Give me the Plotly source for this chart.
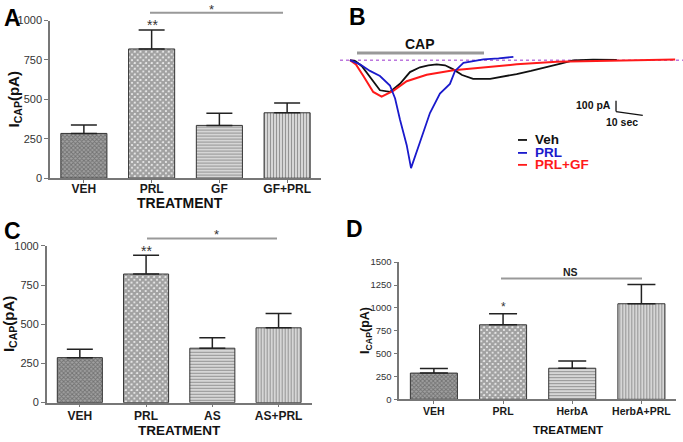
import plotly.graph_objects as go

W, H = 683, 442

# ---------------- data ----------------
cats_A = ["VEH", "PRL", "GF", "GF+PRL"]
mean_A = [284, 820, 335, 415]
sem_A = [54, 120, 77, 62]

cats_C = ["VEH", "PRL", "AS", "AS+PRL"]
mean_C = [287, 820, 347, 477]
sem_C = [54, 120, 66, 92]

cats_D = ["VEH", "PRL", "HerbA", "HerbA+PRL"]
mean_D = [287, 815, 340, 1045]
sem_D = [50, 122, 80, 210]

yticks_AC = [0, 250, 500, 750, 1000]
yticks_D = [0, 250, 500, 750, 1000, 1250, 1500]

# Panel B traces: time (s) and current (pA)
veh_t = [0, 2, 4.4, 8.1, 11.1, 14.8, 18.5, 22.2, 25.9, 29, 32.1, 35.2, 38.1, 41.5, 45.6, 51.9, 57, 61.7, 67, 72.9, 78, 82.6, 90, 98.8]
veh_i = [0, -8, -52, -161, -258, -272, -202, -102, -61, -45, -36, -44, -77, -127, -161, -161, -140, -119, -92, -61, -30, -2, 5, 3]

prl_t = [0, 3.7, 7.4, 11.1, 14.8, 16.7, 18.5, 21, 22.6, 24.1, 25.9, 29.6, 33.3, 37, 38.9, 42, 49.4, 55, 60.5]
prl_i = [0, -36, -92, -136, -217, -328, -508, -728, -925, -828, -703, -453, -286, -203, -92, -22, 6, 15, 28]

gf_t = [0, 2.2, 4.9, 8.6, 11.7, 16, 21, 28.4, 38.3, 49.4, 61.7, 76.6, 95.1, 120.4]
gf_i = [0, -36, -133, -272, -313, -263, -180, -125, -86, -63, -36, -13, -3, 6]

# ---------------- helpers ----------------
def px(x):
    return x / W

def py(y):
    return 1 - y / H

fig = go.Figure()

patt_shapes = ["x", "x", "-", "|"]
patt_fg = ["#5e5e5e", "#000000", "#8c8c8c", "#8c8c8c"]
patt_bg = ["#a0a0a0", "#ffffff", "#e4e4e4", "#e4e4e4"]
patt_size = [3, 4, 3, 3]
patt_sol = [0.5, 0.85, 0.45, 0.45]


def add_bars(cats, means, sems, xa, ya, cap):
    fig.add_trace(go.Bar(
        x=cats, y=means, xaxis=xa, yaxis=ya, width=0.68,
        marker=dict(
            color=patt_bg,
            line=dict(color="#333333", width=1),
            pattern=dict(shape=patt_shapes, fgcolor=patt_fg, bgcolor=patt_bg,
                         size=patt_size, solidity=patt_sol, fillmode="overlay"),
        ),
        error_y=dict(type="data", symmetric=False, array=sems,
                     arrayminus=[0] * len(sems), color="#222222",
                     thickness=1.5, width=cap),
        showlegend=False, hoverinfo="skip",
    ))


add_bars(cats_A, mean_A, sem_A, "x", "y", 13)
add_bars(cats_C, mean_C, sem_C, "x3", "y3", 13)
add_bars(cats_D, mean_D, sem_D, "x4", "y4", 14)

# Panel B traces
fig.add_trace(go.Scatter(x=[-3.7, 123.3], y=[0, 0], xaxis="x2", yaxis="y2", mode="lines",
                         line=dict(color="#9933cc", width=1, dash="dot"),
                         showlegend=False, hoverinfo="skip"))
fig.add_trace(go.Scatter(x=veh_t, y=veh_i, xaxis="x2", yaxis="y2", mode="lines",
                         line=dict(color="#111111", width=1.8), showlegend=False, hoverinfo="skip"))
fig.add_trace(go.Scatter(x=gf_t, y=gf_i, xaxis="x2", yaxis="y2", mode="lines",
                         line=dict(color="#ff1a1a", width=2), showlegend=False, hoverinfo="skip"))
fig.add_trace(go.Scatter(x=prl_t, y=prl_i, xaxis="x2", yaxis="y2", mode="lines",
                         line=dict(color="#1a1acc", width=1.8), showlegend=False, hoverinfo="skip"))

tickfont = dict(family="Liberation Sans, Arial", size=11, color="#333333")
catfont = dict(family="Liberation Sans, Arial", size=12, color="#1a1a1a", weight="bold")
catfont_D = dict(family="Liberation Sans, Arial", size=10.5, color="#1a1a1a", weight="bold")
tickfont_D = dict(family="Liberation Sans, Arial", size=9.5, color="#333333")


def bar_xaxis(dom, anchor, font, standoff):
    return dict(domain=dom, anchor=anchor, range=[-0.5, 3.5], showline=True,
                linecolor="#777777", linewidth=1.5, ticks="outside", ticklen=3,
                tickcolor="#777777", showgrid=False, ticklabelstandoff=standoff,
                zeroline=False, tickfont=font, fixedrange=True)


def bar_yaxis(dom, anchor, rng, tv, font):
    return dict(domain=dom, anchor=anchor, range=rng, showline=True,
                linecolor="#777777", linewidth=1.5, ticks="outside", ticklen=4,
                tickcolor="#777777", tickvals=tv, showgrid=False, zeroline=False,
                tickfont=font, fixedrange=True)


layout = dict(
    width=W, height=H, margin=dict(l=0, r=0, t=0, b=0),
    paper_bgcolor="white", plot_bgcolor="rgba(0,0,0,0)",
    xaxis=bar_xaxis([px(50), px(321)], "y", catfont, -4),
    yaxis=bar_yaxis([py(177), py(15)], "x", [0, 1000], yticks_AC, tickfont),
    xaxis3=bar_xaxis([px(46.7), px(311.7)], "y3", catfont, -2),
    yaxis3=bar_yaxis([py(407.7), py(246.5)], "x3", [0, 1000], yticks_AC, tickfont),
    xaxis4=bar_xaxis([px(399.3), px(676)], "y4", catfont_D, -2),
    yaxis4=bar_yaxis([py(404.3), py(263.3)], "x4", [0, 1500], yticks_D, tickfont_D),
    xaxis2=dict(domain=[px(340), 1], anchor="y2", range=[-3.7, 123.3], visible=False, fixedrange=True),
    yaxis2=dict(domain=[py(210), 1], anchor="x2", range=[-1286, 464], visible=False, fixedrange=True),
)
fig.update_layout(**layout)

ann = []
shapes = []


def text(x, y, s, size, color="#111111", bold=True, angle=0, xanchor="center", family="Liberation Sans, Arial"):
    ann.append(dict(x=px(x), y=py(y), xref="paper", yref="paper", text=("<b>%s</b>" % s) if bold else s,
                    showarrow=False, font=dict(family=family, size=size, color=color),
                    xanchor=xanchor, yanchor="middle", textangle=angle))


def pline(x0, y0, x1, y1, color="#999999", width=2):
    shapes.append(dict(type="line", xref="paper", yref="paper", x0=px(x0), y0=py(y0),
                       x1=px(x1), y1=py(y1), line=dict(color=color, width=width)))


# Panel letters
text(12, 12, "A", 23, "#000000")
text(357, 11, "B", 23, "#000000")
text(12, 231, "C", 23, "#000000")
text(354, 229, "D", 23, "#000000")

# Axis titles
text(180, 203, "TREATMENT", 14, "#111111")
text(179, 436, "TREATMENT", 13.5, "#111111")
text(568, 436, "TREATMENT", 11.5, "#111111")
ytitle = "I<sub>CAP</sub>(pA)"
text(14, 96, ytitle, 15, "#111111", angle=-90)
text(9, 327, ytitle, 15, "#111111", angle=-90)
text(366, 334, ytitle, 12.5, "#111111", angle=-90)

# Significance markers
pline(150, 7, 283, 7)
text(211, 4, "*", 13, "#333333", bold=False)
text(152, 20, "**", 14, "#333333", bold=False)

pline(147, 239, 277, 239)
text(216, 235, "*", 13, "#333333", bold=False)
text(146, 252, "**", 14, "#333333", bold=False)

pline(501, 280, 642, 280)
text(570, 273, "NS", 10.5, "#222222")
text(503, 309, "*", 12, "#333333", bold=False)

# Panel B decorations
pline(357, 48.3, 484, 48.3, color="#999999", width=3)
text(420, 39, "CAP", 14, "#111111")

# scale bar
shapes.append(dict(type="line", xref="x2", yref="y2", x0=98.5, y0=-347, x1=98.5, y1=-440,
                   line=dict(color="#111111", width=1.3)))
shapes.append(dict(type="line", xref="x2", yref="y2", x0=98.5, y0=-440, x1=108.4, y1=-472,
                   line=dict(color="#111111", width=1.3)))
text(613, 102, "100 pA", 10.5, "#111111", xanchor="right")
text(622, 119, "10 sec", 10.5, "#111111")

# legend
for yy, lab, col in [(137.7, "Veh", "#111111"), (151, "PRL", "#1a1acc"), (163.3, "PRL+GF", "#ff1a1a")]:
    pline(518, yy, 527, yy, color=col, width=1.8)
    text(533, yy, lab, 13.5, col, xanchor="left")

fig.update_layout(annotations=ann, shapes=shapes)
fig.write_html("out.html", config={"displayModeBar": False},
               post_script="document.body.style.margin='0px';")
